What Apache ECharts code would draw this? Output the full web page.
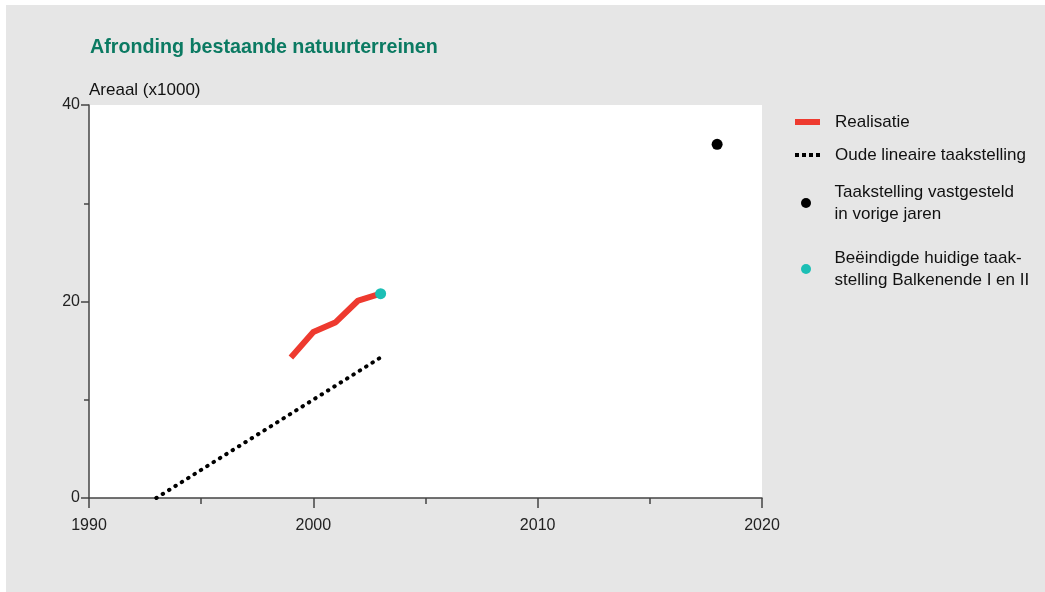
<!DOCTYPE html>
<html>
<head>
<meta charset="utf-8">
<script src="https://cdn.jsdelivr.net/npm/echarts@6/dist/echarts.min.js"></script>
<style>
html,body{margin:0;padding:0;background:#fff;}
#c{position:absolute;left:0;top:0;width:1045px;height:592px;background:#e6e6e6;box-shadow:inset 6px 5px 0 #fff;}
</style>
</head>
<body>
<div id="c"></div>
<script>
const titleText = 'Afronding bestaande natuurterreinen';
const yAxisName = 'Areaal (x1000)';
const realisatieYears = [1999, 2000, 2001, 2002, 2003];
const realisatieValues = [14.3, 16.9, 17.9, 20.1, 20.8];
const lineairYears = [1993, 2003];
const lineairValues = [0, 14.3];
const vorigeYears = [2018];
const vorigeValues = [36.0];
const beeindigdYears = [2003];
const beeindigdValues = [20.8];
const seriesNames = ['Realisatie', 'Oude lineaire taakstelling', 'Taakstelling vastgesteld\nin vorige jaren', 'Beëindigde huidige taak-\nstelling Balkenende I en II'];

const pair = (xs, ys) => xs.map((x, i) => [x, ys[i]]);
const font = 'Liberation Sans, Arial, sans-serif';
const legTxt = {fontFamily: font, fontSize: 17, color: '#111', lineHeight: 22, padding: [0, 0, 0, 10]};
const legTxtDot = Object.assign({}, legTxt, {padding: [0, 0, 0, 11]});
const dotsIcon = 'path://M0,0h4v4h-4z M7,0h4v4h-4z M14,0h4v4h-4z M21,0h4v4h-4z';

const chart = echarts.init(document.getElementById('c'));
chart.setOption({
  animation: false,
  title: {text: titleText, left: 90, top: 38, padding: 0, textStyle: {fontFamily: font, fontSize: 19.7, fontWeight: 'bold', color: '#0b7a62'}},
  grid: {left: 89, right: 283, top: 105, bottom: 94, show: true, backgroundColor: '#fff', borderWidth: 0},
  legend: [
    {data: [{name: seriesNames[0], icon: 'rect'}], left: 795, top: 111, padding: 0, itemWidth: 25, itemHeight: 6, textStyle: legTxt},
    {data: [{name: seriesNames[1], icon: dotsIcon}], left: 795, top: 144, padding: 0, itemWidth: 25, itemHeight: 4, textStyle: legTxt},
    {data: [{name: seriesNames[2], icon: 'circle'}], left: 801, top: 181, padding: 0, itemWidth: 25, itemHeight: 10, textStyle: legTxtDot},
    {data: [{name: seriesNames[3], icon: 'circle'}], left: 801, top: 247, padding: 0, itemWidth: 25, itemHeight: 10, textStyle: legTxtDot}
  ],
  xAxis: {
    type: 'value', min: 1990, max: 2020, interval: 10,
    axisLine: {lineStyle: {color: '#444', width: 1.5}},
    axisTick: {show: true, length: 10, lineStyle: {color: '#444', width: 1.5}},
    minorTick: {show: true, splitNumber: 2, length: 6, lineStyle: {color: '#444', width: 1.5}},
    splitLine: {show: false},
    axisLabel: {fontFamily: font, fontSize: 16, color: '#222', margin: 20, formatter: v => String(v)}
  },
  yAxis: {
    type: 'value', min: 0, max: 40, interval: 20,
    name: yAxisName, nameLocation: 'end', nameGap: 6,
    nameTextStyle: {fontFamily: font, fontSize: 17, color: '#111', align: 'left'},
    axisLine: {show: true, lineStyle: {color: '#444', width: 1.5}},
    axisTick: {show: true, length: 8, lineStyle: {color: '#444', width: 1.5}},
    minorTick: {show: true, splitNumber: 2, length: 5, lineStyle: {color: '#444', width: 1.5}},
    splitLine: {show: false},
    axisLabel: {fontFamily: font, fontSize: 16, color: '#222', margin: 9}
  },
  series: [
    {name: seriesNames[0], type: 'line', data: pair(realisatieYears, realisatieValues), symbol: 'none', color: '#ee3a2f',
     lineStyle: {width: 6, color: '#ee3a2f', join: 'round'}, z: 3},
    {name: seriesNames[1], type: 'line', data: pair(lineairYears, lineairValues), symbol: 'none', color: '#000',
     lineStyle: {width: 4, color: '#000', type: [0.5, 7], cap: 'round'}, z: 2},
    {name: seriesNames[2], type: 'scatter', data: pair(vorigeYears, vorigeValues), symbol: 'circle', symbolSize: 11, itemStyle: {color: '#000', opacity: 1}, z: 4},
    {name: seriesNames[3], type: 'scatter', data: pair(beeindigdYears, beeindigdValues), symbol: 'circle', symbolSize: 11, itemStyle: {color: '#1cbfb5', opacity: 1}, z: 5}
  ]
});
</script>
</body>
</html>
